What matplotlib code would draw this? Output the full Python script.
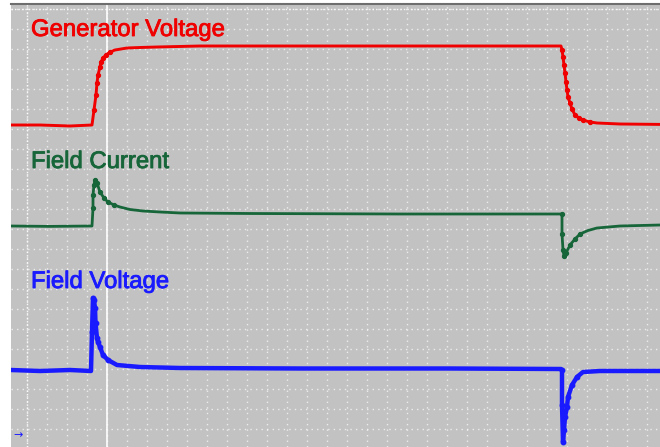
import numpy as np
import matplotlib.pyplot as plt
import matplotlib.patheffects as pe

# time in ms, levels in grid divisions relative to each trace's resting level
gen_t = [-8, 6.5, 21.5, 32.5, 33.5, 34.5, 35, 35.5, 36.5, 37, 38, 39.5, 41.5, 44, 50, 56.5, 65,
         86.5, 136.5, 186.5, 236.5, 267, 267.5, 268, 268.5, 269, 269.5, 270, 270.5, 271.5,
         272.5, 274, 276, 278, 281.5, 285, 296.5, 316.5]
gen_v = [0, 0, -0.05, 0, 0.75, 1.5, 2.1, 2.5, 2.9, 3.15, 3.35, 3.5, 3.65, 3.75, 3.85, 3.875, 3.9,
         3.95, 3.95, 3.95, 3.95, 3.95, 3.75, 3.4, 3.0, 2.6, 2.15, 1.75, 1.4, 1.1,
         0.8, 0.5, 0.35, 0.25, 0.15, 0.1, 0.05, 0.03]

cur_t = [-8, 11.5, 32.5, 33, 33, 33.5, 34, 35, 36.5, 38.5, 40.5, 43.5, 46.5, 51.5, 58, 66.5,
         76.5, 111.5, 186.5, 267, 267.5, 267.5, 268, 268.5, 269.5, 271.5, 274, 276.5, 280.5,
         285, 296.5, 316.5]
cur_v = [0, -0.02, 0, 0.9, 1.55, 2.05, 2.3, 2.15, 1.7, 1.4, 1.2, 1.05, 0.95, 0.825, 0.75, 0.7,
         0.65, 0.625, 0.6, 0.6, 0.6, -0.4, -1.2, -1.5, -1.35, -0.95, -0.65, -0.4, -0.225,
         -0.1, 0, 0.05]

fv_t = [-8, 6.5, 21.5, 32, 32.5, 33, 33.5, 34, 34.25, 35, 35.5, 36.5, 38, 40.5, 45, 56.5,
        76.5, 136.5, 211.5, 267, 267.5, 267.5, 268, 268.5, 269, 270, 270.5, 272.5, 275, 278,
        286.5, 316.5]
fv_v = [0, -0.05, 0, -0.05, 1.9, 3.6, 3.5, 3.1, 2.35, 1.6, 1.4, 1.15, 0.75, 0.5, 0.25, 0.15,
        0.1, 0.075, 0.075, 0.05, 0, -1.75, -3.6, -3.0, -2.35, -1.85, -1.35, -0.75, -0.35, -0.1,
        -0.05, -0.05]

labels = ['Generator Voltage', 'Field Current', 'Field Voltage']

red = '#f00000'
green = '#17663a'
blue = '#1a1aff'


def edge_samples(t):
    # show sample dots only where the trace moves fast
    return [i for i in range(1, len(t) - 1) if t[i + 1] - t[i - 1] < 8]


fig = plt.figure(figsize=(6.6, 4.47), dpi=100)
ax = fig.add_axes([11/660, 0, 649/660, 443/447])
ax.set_facecolor('#c2c2c2')
ax.set_xlim(-8, 316.5)
ax.set_ylim(-0.9, 21.25)

for t in np.arange(0, 320, 10):
    ax.axvline(t, color='white', lw=1, ls=(0, (1, 3)), alpha=0.7, zorder=1)
for y in range(0, 22):
    ax.axhline(y, color='white', lw=1, ls=(0, (1, 3)), alpha=0.7, zorder=1)
ax.axvline(0, color='white', lw=1, ls=(0, (1, 1.5)), alpha=0.9, zorder=1)
ax.axhline(21, color='white', lw=1, ls=(0, (1, 1.5)), alpha=0.9, zorder=1)

# cursor
ax.axvline(40, color='white', lw=1.2, zorder=2)

ax.plot(gen_t, np.array(gen_v) + 15.2, color=red, lw=2.1, marker='o', ms=2.8,
        markevery=edge_samples(gen_t), zorder=3)
ax.plot(cur_t, np.array(cur_v) + 10.15, color=green, lw=2.0, marker='o', ms=2.8,
        markevery=edge_samples(cur_t), zorder=3)
ax.plot(fv_t, np.array(fv_v) + 2.95, color=blue, lw=3.2, marker='o', ms=3.2,
        markevery=edge_samples(fv_t), zorder=3)

for lab, y, c in zip(labels, [19.65, 13.05, 7.05], [red, green, blue]):
    txt = ax.text(2, y, lab, color=c, fontsize=17.2, family='Liberation Sans', va='baseline')
    txt.set_path_effects([pe.withStroke(linewidth=0.6, foreground=c)])
ax.text(-6.8, -0.3, '→', color=blue, fontsize=8, va='center')

ax.set_xticks([])
ax.set_yticks([])
for s in ['left', 'right', 'bottom']:
    ax.spines[s].set_visible(False)
ax.spines['top'].set_color('#6e6e6e')
ax.spines['top'].set_linewidth(1.5)

fig.savefig('out.png', dpi=100)
